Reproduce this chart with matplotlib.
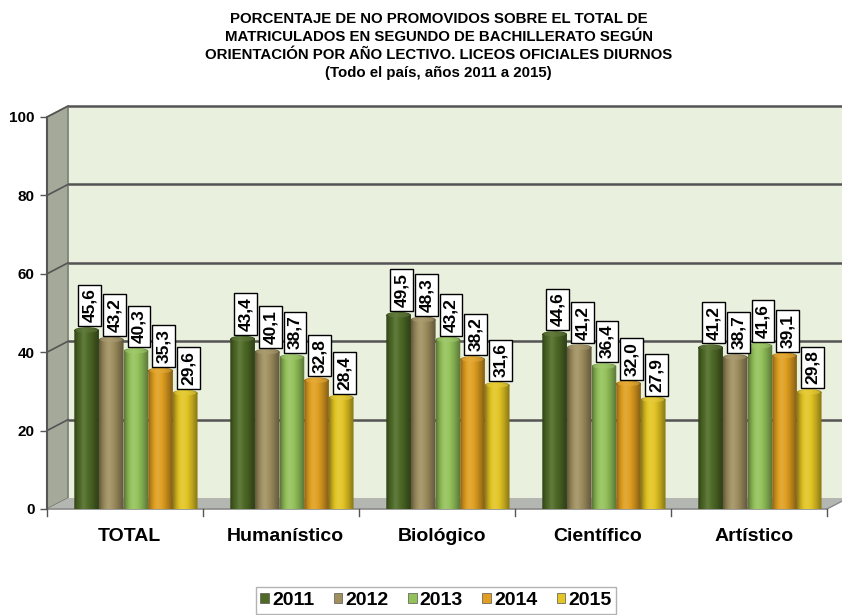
import matplotlib
matplotlib.use("Agg")
import matplotlib.pyplot as plt
import numpy as np
from matplotlib.patches import Polygon, Rectangle, Ellipse, PathPatch, Patch
from matplotlib.path import Path
from matplotlib.colors import to_rgb

plt.rcParams['font.family'] = ['Liberation Sans', 'DejaVu Sans']

categories = ["TOTAL", "Humanístico", "Biológico", "Científico", "Artístico"]
years = ["2011", "2012", "2013", "2014", "2015"]
values = {
    "2011": [45.6, 43.4, 49.5, 44.6, 41.2],
    "2012": [43.2, 40.1, 48.3, 41.2, 38.7],
    "2013": [40.3, 38.7, 43.2, 36.4, 41.6],
    "2014": [35.3, 32.8, 38.2, 32.0, 39.1],
    "2015": [29.6, 28.4, 31.6, 27.9, 29.8],
}
colors = ["#4e6a26", "#a09060", "#94c25a", "#e09f20", "#e3c523"]
yticks = [0, 20, 40, 60, 80, 100]
title = ("PORCENTAJE DE NO PROMOVIDOS SOBRE EL TOTAL DE\n"
         "MATRICULADOS EN SEGUNDO DE BACHILLERATO SEGÚN\n"
         "ORIENTACIÓN POR AÑO LECTIVO. LICEOS OFICIALES DIURNOS\n"
         "(Todo el país, años 2011 a 2015)")

W, H = 842, 615
fig = plt.figure(figsize=(W / 100, H / 100), dpi=100)
ax = fig.add_axes([47 / W, 1 - 509 / H, 780 / W, 392 / H])

ncat = len(categories)
dx, dy = 0.135, 2.8          # depth offset of the back wall
xr = 5.1                     # right end of the wall

# back wall, side wall and floor
ax.add_patch(Polygon([(dx, dy), (xr, dy), (xr, 100 + dy), (dx, 100 + dy)],
                     closed=True, facecolor="#e9f0dd", edgecolor="none",
                     clip_on=False, zorder=0))
ax.add_patch(Polygon([(0, 0), (dx, dy), (dx, 100 + dy), (0, 100)],
                     closed=True, facecolor="#a4a999", edgecolor="#6e7268",
                     lw=1.0, clip_on=False, zorder=1))
ax.add_patch(Polygon([(0, 0), (ncat, 0), (ncat + dx, dy), (dx, dy)],
                     closed=True, facecolor="#b4b6b2", edgecolor="none",
                     clip_on=False, zorder=1))
for v in yticks[1:]:
    ax.plot([dx, xr], [v + dy, v + dy], color="#545454", lw=1.8,
            clip_on=False, zorder=1, solid_capstyle="butt")
    ax.plot([0, dx], [v, v + dy], color="#545454", lw=1.2,
            clip_on=False, zorder=1)
ax.plot([0, ncat], [0, 0], color="#8a8a8a", lw=1.2, clip_on=False, zorder=2)
ax.plot([ncat, ncat + dx], [0, dy], color="#8a8a8a", lw=1.0, clip_on=False, zorder=2)
for i in range(ncat + 1):
    ax.plot([i, i], [0, -1.8], color="#555555", lw=1.0, clip_on=False, zorder=2)


def shade(rgb, f):
    c = np.array(rgb)
    if f < 1:
        return c * f
    return c + (1 - c) * (f - 1)


# cylinder-like bars with a horizontal gradient
bw = 0.158
x0 = 0.175
prof = np.array([0.62, 0.85, 1.0, 1.12, 1.05, 0.95, 0.85, 0.72, 0.6])
cap = 1.6
for j, yr in enumerate(years):
    rgb = to_rgb(colors[j])
    steps = np.interp(np.linspace(0, 1, 40), np.linspace(0, 1, len(prof)), prof)
    grad = np.array([[shade(rgb, f) for f in steps]])
    for i, v in enumerate(values[yr]):
        left = i + x0 + j * bw
        rect = Rectangle((left, 0), bw, v)
        ell = Ellipse((left + bw / 2, v), bw, cap)
        p1 = rect.get_path().transformed(rect.get_patch_transform())
        p2 = ell.get_path().transformed(ell.get_patch_transform())
        clip = PathPatch(Path.make_compound_path(p1, p2), transform=ax.transData)
        im = ax.imshow(grad, extent=(left, left + bw, 0, v + cap / 2),
                       aspect="auto", interpolation="bicubic", zorder=3)
        im.set_clip_path(clip)
        ax.add_patch(Ellipse((left + bw / 2, v), bw * 0.9, cap * 0.8,
                             facecolor=shade(rgb, 1.12), edgecolor="none",
                             alpha=0.55, zorder=4))
        ax.text(left + bw / 2 + 0.02, v + 2.0, f"{v:.1f}".replace(".", ","),
                rotation=90, ha="center", va="bottom", fontsize=12.5,
                fontweight="bold", zorder=6,
                bbox=dict(boxstyle="square,pad=0.22", facecolor="white",
                          edgecolor="black", lw=1.0))

ax.set_xlim(0, ncat)
ax.set_ylim(0, 100)
for s in ["top", "right", "bottom"]:
    ax.spines[s].set_visible(False)
ax.spines["left"].set_color("#555555")
ax.spines["left"].set_linewidth(1.5)
ax.set_yticks(yticks)
ax.set_yticklabels([str(t) for t in yticks], fontsize=11, fontweight="bold")
ax.tick_params(axis="y", length=5, width=1.0, color="#555555", pad=4)
ax.set_xticks([i + 0.53 for i in range(ncat)])
ax.set_xticklabels(categories, fontsize=14, fontweight="bold")
ax.tick_params(axis="x", length=0, pad=14)

fig.text(0.521, 1 - 12 / H, title, ha="center", va="top", fontsize=10.8,
         fontweight="bold", linespacing=1.36)

handles = [Patch(facecolor=c, edgecolor="#555555", lw=0.5) for c in colors]
leg = fig.legend(handles, years, loc="upper center", ncol=5,
                 bbox_to_anchor=(436 / W, 1 - 587 / H),
                 prop=dict(size=14, weight="bold"), frameon=True,
                 fancybox=False, edgecolor="#a0a0a0", handlelength=0.45,
                 handleheight=0.45, handletextpad=0.15, columnspacing=1.0,
                 borderpad=0.25, borderaxespad=0)
leg.get_frame().set_linewidth(1.0)

fig.savefig("out.png", dpi=100)
